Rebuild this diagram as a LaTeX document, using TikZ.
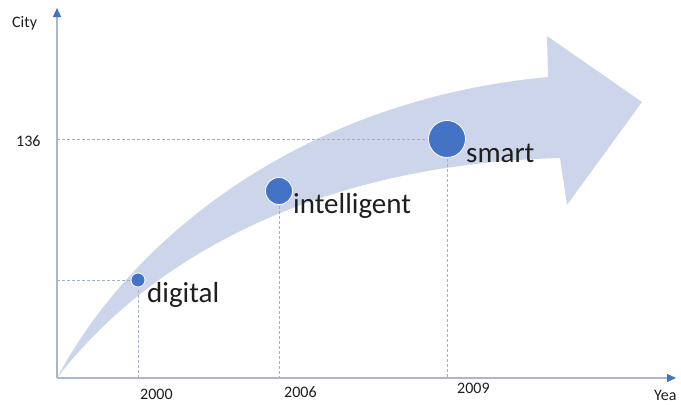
\documentclass[tikz,border=0pt]{standalone}
\usepackage{fontspec}
\setmainfont{Carlito}
\usetikzlibrary{arrows.meta}
\definecolor{bandc}{RGB}{205,213,234}
\definecolor{dotblue}{RGB}{68,114,196}
\definecolor{axisc}{RGB}{170,182,206}
\definecolor{guidec}{RGB}{160,174,200}
\definecolor{textc}{RGB}{30,30,30}
\tikzset{
  axisline/.style={draw=axisc, line width=1.1pt},
  guide/.style={draw=guidec, line width=0.6pt, dash pattern=on 3pt off 2pt},
  dot/.style={circle, fill=dotblue, draw=white, line width=0.8pt, inner sep=0pt},
  ticklab/.style={anchor=base west, font=\fontsize{16}{18}\selectfont, text=textc, inner sep=0pt},
  biglab/.style={anchor=base west, font=\fontsize{29}{32}\selectfont, text=textc, inner sep=0pt}
}
\begin{document}
\begin{tikzpicture}[x=1pt,y=-1pt]
\useasboundingbox (0,0) rectangle (681,405);
% band arrow
\fill[bandc] (57,378) .. controls (130,240) and (300,100) .. (548,77)
  -- (547,36) -- (642,102) -- (567,205) -- (560,158)
  .. controls (300,165) and (140,270) .. (57,378) -- cycle;
% axes
\coordinate (o) at (57,378);
\coordinate (ytop) at (57,8);
\coordinate (xend) at (676,378);
\draw[axisline, -{Triangle[length=9pt,width=8pt,color=dotblue]}] (o) -- (ytop);
\draw[axisline, -{Triangle[length=9pt,width=8pt,color=dotblue]}] (o) -- (xend);
% points
\coordinate (p1) at (138,280);
\coordinate (p2) at (279,191);
\coordinate (p3) at (447,139);
\draw[guide] (o |- p1) -- (p1);
\draw[guide] (o |- p3) -- (p3);
\draw[guide] (p1) -- (p1 |- o);
\draw[guide] (p2) -- (p2 |- o);
\draw[guide] (p3) -- (p3 |- o);
\node[dot, minimum size=14pt] (d1) at (p1) {};
\node[dot, minimum size=27pt] (d2) at (p2) {};
\node[dot, minimum size=37pt] (d3) at (p3) {};
% labels
\node[biglab] (l1) at (147,302) {digital};
\node[biglab] (l2) at (293,213) {intelligent};
\node[biglab] (l3) at (466,162) {smart};
\node[ticklab] (t1) at (140,399) {2000};
\node[ticklab] (t2) at (284,397) {2006};
\node[ticklab] (t3) at (457,393) {2009};
\node[ticklab] (cy) at (12,27) {City};
\node[ticklab] (v136) at (16,146) {136};
\node[ticklab] (yr) at (654,400) {Yea};
\end{tikzpicture}
\end{document}
